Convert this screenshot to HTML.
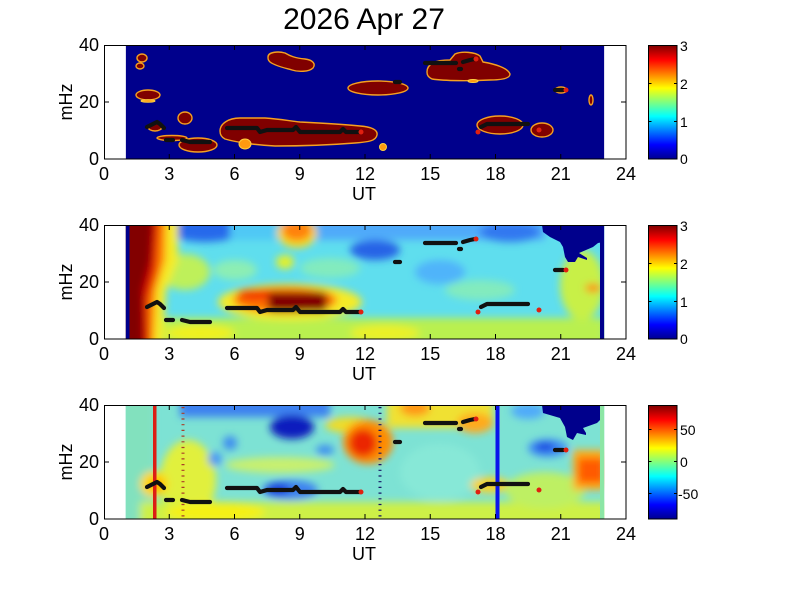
<!DOCTYPE html>
<html><head><meta charset="utf-8"><style>
html,body{margin:0;padding:0;background:#fff;}
svg{display:block;}
text{font-family:"Liberation Sans",Arial,sans-serif;fill:#000;}
</style></head><body>
<svg width="801" height="600" viewBox="0 0 801 600" xmlns="http://www.w3.org/2000/svg">
<defs>
<linearGradient id="jet" x1="0" y1="0" x2="0" y2="1">
<stop offset="0" stop-color="#800000"/><stop offset="0.125" stop-color="#ff0000"/>
<stop offset="0.375" stop-color="#ffff00"/><stop offset="0.625" stop-color="#00ffff"/>
<stop offset="0.875" stop-color="#0000ff"/><stop offset="1" stop-color="#00008f"/>
</linearGradient>
<filter id="b" x="-20%" y="-20%" width="140%" height="140%"><feGaussianBlur stdDeviation="4"/></filter>
<clipPath id="c1"><rect x="125.75" y="45" width="478.5" height="114"/></clipPath>
<clipPath id="c2"><rect x="125.75" y="225" width="478.5" height="114"/></clipPath>
<clipPath id="c3"><rect x="125.75" y="405" width="478.5" height="114"/></clipPath>
<g id="tracks">
<g fill="none" stroke="#111" stroke-width="4.2" stroke-linejoin="round" stroke-linecap="round">
<polyline points="147,307 153,304 157,302 160,304 164,308"/>
<polyline points="166,320 173,320"/>
<polyline points="182,320 190,322 210,322"/>
<polyline points="227,308 257,308 260,312 267,310 293,310 296,307 300,312 340,312 343,309 346,312 360,312"/>
<polyline points="395,262 400,262"/>
<polyline points="425,243 456,243"/>
<polyline points="459,249 461,249"/>
<polyline points="463,242 470,240 475,239"/>
<polyline points="481,307 487,304 528,304"/>
<polyline points="555,270 563,270"/>
</g>
<g fill="#e02010">
<circle cx="361" cy="312" r="2.5"/><circle cx="476" cy="239" r="2.5"/><circle cx="478" cy="312" r="2.5"/>
<circle cx="539" cy="310" r="2.5"/><circle cx="566" cy="270" r="2.5"/>
</g>
</g>
</defs>

<text x="364" y="29" font-size="30" text-anchor="middle">2026 Apr 27</text>

<!-- PANEL 1 -->
<g clip-path="url(#c1)">
<rect x="125.75" y="45" width="478.5" height="114" fill="#00008c"/>
<g fill="#800000" stroke="#f5a020" stroke-width="1.4">
<ellipse cx="142" cy="58" rx="5" ry="4"/>
<ellipse cx="140" cy="66" rx="4" ry="3"/>
<ellipse cx="148" cy="95" rx="12" ry="5"/>
<ellipse cx="185" cy="118" rx="7" ry="6"/>
<ellipse cx="155" cy="127" rx="7" ry="4"/>
<ellipse cx="172" cy="138" rx="15" ry="2.5"/>
<ellipse cx="198" cy="145" rx="19" ry="7"/>
<path d="M220,131 C220,124 228,118 240,118 L265,118 C280,119 290,121 300,122 C320,123 340,124 360,126 C372,127 378,130 377,135 C376,141 368,142 355,143 C330,145 300,146 275,146 C255,145 235,142 225,139 C221,137 220,134 220,131 Z"/>
<path d="M268,57 C268,52 278,51 285,53 C290,56 295,58 305,59 C313,60 316,64 313,68 C309,72 298,72 292,70 C285,68 275,66 270,62 C268,60 268,59 268,57 Z"/>
<ellipse cx="378" cy="88" rx="30" ry="7"/>
<path d="M427,72 C427,64 435,60 450,60 L455,54 C462,51 475,52 480,56 L483,62 C495,64 508,68 510,74 C510,79 500,80 490,80 C470,81 445,81 432,79 C428,77 427,75 427,72 Z"/>
<ellipse cx="500" cy="125" rx="23" ry="9"/>
<ellipse cx="542" cy="130" rx="11" ry="7"/>
<ellipse cx="561" cy="90" rx="6" ry="3"/>
<ellipse cx="591" cy="100" rx="2" ry="5"/>
</g>
<g fill="#ff9a10" stroke="#ffd040" stroke-width="1">
<ellipse cx="245" cy="144" rx="6" ry="5"/>
<circle cx="383" cy="147" r="3.5"/>
<ellipse cx="473" cy="81" rx="5" ry="1.5"/>
<ellipse cx="148" cy="101" rx="7" ry="1.2"/>
</g>
<use href="#tracks" transform="translate(0,-180)"/>
</g>
<rect x="104.5" y="45.5" width="521.5" height="113.5" fill="none" stroke="#000" stroke-width="1"/>

<!-- PANEL 2 -->
<g clip-path="url(#c2)">
<rect x="125" y="225" width="480" height="114" fill="rgb(95,222,238)"/>
<g filter="url(#b)">
<rect x="140" y="318" width="465" height="30" fill="rgb(185,240,80)"/>
<ellipse cx="200" cy="333" rx="35" ry="8" fill="rgb(240,240,30)"/>
<ellipse cx="385" cy="333" rx="35" ry="8" fill="rgb(235,240,40)"/>
<ellipse cx="185" cy="272" rx="25" ry="18" fill="rgb(190,240,90)"/>
<ellipse cx="235" cy="270" rx="22" ry="10" fill="rgb(140,238,180)"/>
<ellipse cx="330" cy="268" rx="30" ry="10" fill="rgb(130,235,190)"/>
<ellipse cx="480" cy="290" rx="35" ry="10" fill="rgb(130,235,190)"/>
<rect x="175" y="215" width="120" height="25" fill="rgb(60,140,245)"/>
<ellipse cx="205" cy="230" rx="35" ry="12" fill="rgb(40,105,235)"/>
<rect x="230" y="215" width="50" height="25" fill="rgb(80,200,245)"/>
<rect x="315" y="215" width="230" height="25" fill="rgb(80,170,250)"/>
<ellipse cx="375" cy="250" rx="25" ry="10" fill="rgb(40,100,230)"/>
<ellipse cx="510" cy="232" rx="30" ry="10" fill="rgb(50,120,240)"/>
<ellipse cx="440" cy="272" rx="25" ry="12" fill="rgb(80,180,250)"/>
<ellipse cx="297" cy="233" rx="20" ry="15" fill="rgb(245,220,40)"/>
<ellipse cx="297" cy="230" rx="15" ry="11" fill="rgb(255,130,10)"/>
<ellipse cx="285" cy="262" rx="9" ry="7" fill="rgb(230,240,40)"/>
<ellipse cx="290" cy="302" rx="72" ry="18" fill="rgb(245,235,40)"/>
<ellipse cx="285" cy="300" rx="52" ry="13" fill="rgb(255,110,0)"/>
<ellipse cx="255" cy="294" rx="18" ry="5" fill="rgb(240,40,0)"/>
<rect x="268" y="292" width="59" height="20" rx="5" fill="rgb(130,0,0)"/>
<ellipse cx="582" cy="285" rx="22" ry="35" fill="rgb(200,240,70)"/>
<ellipse cx="593" cy="288" rx="8" ry="4" fill="rgb(255,130,0)"/>
<polygon points="115,215 178,215 178,260 166,290 162,350 115,350" fill="rgb(245,235,40)"/>
<polygon points="115,215 166,215 165,260 156,290 153,350 115,350" fill="rgb(255,120,0)"/>
<polygon points="115,215 159,215 156,270 148,300 149,350 115,350" fill="rgb(220,10,0)"/>
<polygon points="115,215 154,215 151,260 143,290 144,350 115,350" fill="rgb(130,0,0)"/>
</g>
<rect x="125.75" y="225" width="3.75" height="114" fill="#00008c"/>
<rect x="600" y="225" width="4.25" height="114" fill="#00008c"/>
<polygon points="542,225 543,232 550,237 560,242 563,247 565,257 568,262 575,262 578,257 587,260 587,258 579,253 593,247 598,243 604,242 604,225" fill="#00008c"/>
<use href="#tracks"/>
</g>
<rect x="104.5" y="225.5" width="521.5" height="113.5" fill="none" stroke="#000" stroke-width="1"/>

<!-- PANEL 3 -->
<g clip-path="url(#c3)">
<rect x="125" y="405" width="480" height="114" fill="rgb(125,226,212)"/>
<g filter="url(#b)">
<rect x="115" y="395" width="38" height="135" fill="rgb(130,225,190)"/>
<ellipse cx="188" cy="480" rx="28" ry="40" fill="rgb(225,240,60)"/>
<rect x="140" y="502" width="470" height="30" fill="rgb(205,240,70)"/>
<ellipse cx="215" cy="512" rx="50" ry="10" fill="rgb(245,240,20)"/>
<ellipse cx="154" cy="484" rx="14" ry="13" fill="rgb(255,215,0)"/>
<ellipse cx="157" cy="485" rx="6" ry="5" fill="rgb(255,160,0)"/>
<rect x="180" y="395" width="150" height="22" fill="rgb(60,130,240)"/>
<ellipse cx="292" cy="427" rx="22" ry="12" fill="rgb(10,30,190)"/>
<ellipse cx="280" cy="465" rx="55" ry="8" fill="rgb(200,240,110)"/>
<circle cx="230" cy="443" r="7" fill="rgb(60,140,240)"/>
<circle cx="215" cy="459" r="7" fill="rgb(70,150,245)"/>
<ellipse cx="325" cy="450" rx="9" ry="5" fill="rgb(60,140,240)"/>
<ellipse cx="290" cy="490" rx="28" ry="10" fill="rgb(60,130,240)"/>
<ellipse cx="278" cy="489" rx="12" ry="6" fill="rgb(20,60,220)"/>
<ellipse cx="350" cy="425" rx="25" ry="8" fill="rgb(240,220,40)"/>
<rect x="387" y="398" width="106" height="30" fill="rgb(240,225,50)"/>
<ellipse cx="415" cy="408" rx="15" ry="8" fill="rgb(255,150,20)"/>
<ellipse cx="475" cy="423" rx="18" ry="10" fill="rgb(255,170,30)"/>
<ellipse cx="368" cy="442" rx="25" ry="22" fill="rgb(255,140,0)"/>
<ellipse cx="363" cy="443" rx="14" ry="14" fill="rgb(235,40,0)"/>
<ellipse cx="440" cy="472" rx="40" ry="28" fill="rgb(135,232,215)"/>
<ellipse cx="490" cy="485" rx="20" ry="8" fill="rgb(250,210,40)"/>
<ellipse cx="545" cy="490" rx="40" ry="18" fill="rgb(190,240,100)"/>
<ellipse cx="528" cy="411" rx="17" ry="8" fill="rgb(80,170,250)"/>
<ellipse cx="548" cy="448" rx="20" ry="9" fill="rgb(60,140,245)"/>
<ellipse cx="545" cy="447" rx="10" ry="4" fill="rgb(20,60,220)"/>
<rect x="573" y="450" width="32" height="40" fill="rgb(255,170,20)"/>
<rect x="578" y="458" width="26" height="25" fill="rgb(255,90,0)"/>
</g>
<rect x="600" y="405" width="4.25" height="114" fill="rgb(140,230,165)"/>
<polygon points="542,405 543,413 560,418 565,427 567,437 573,440 577,433 586,435 586,433 583,428 597,423 600,420 600,405" fill="#00008c"/>
<rect x="153" y="405" width="3.5" height="114" fill="rgb(220,30,20)"/>
<rect x="495.5" y="405" width="4" height="114" fill="rgb(10,20,235)"/>
<line x1="183" y1="407" x2="183" y2="518" stroke="rgb(170,60,40)" stroke-width="3" stroke-dasharray="1.2 4.5"/>
<line x1="380" y1="407" x2="380" y2="518" stroke="rgb(20,20,100)" stroke-width="3" stroke-dasharray="1.2 4.5"/>
<use href="#tracks" transform="translate(0,180)"/>
</g>
<rect x="104.5" y="405.5" width="521.5" height="113.5" fill="none" stroke="#000" stroke-width="1"/>

<!-- axis ticks -->
<g stroke="#000" stroke-width="1">
<path d="M169.25,159 v-5 M234.5,159 v-5 M299.75,159 v-5 M365,159 v-5 M430.25,159 v-5 M495.5,159 v-5 M560.75,159 v-5
M169.25,45 v5 M234.5,45 v5 M299.75,45 v5 M365,45 v5 M430.25,45 v5 M495.5,45 v5 M560.75,45 v5
M104,102 h5 M626,102 h-5"/>
<path transform="translate(0,180)" d="M169.25,159 v-5 M234.5,159 v-5 M299.75,159 v-5 M365,159 v-5 M430.25,159 v-5 M495.5,159 v-5 M560.75,159 v-5
M169.25,45 v5 M234.5,45 v5 M299.75,45 v5 M365,45 v5 M430.25,45 v5 M495.5,45 v5 M560.75,45 v5
M104,102 h5 M626,102 h-5"/>
<path transform="translate(0,360)" d="M169.25,159 v-5 M234.5,159 v-5 M299.75,159 v-5 M365,159 v-5 M430.25,159 v-5 M495.5,159 v-5 M560.75,159 v-5
M169.25,45 v5 M234.5,45 v5 M299.75,45 v5 M365,45 v5 M430.25,45 v5 M495.5,45 v5 M560.75,45 v5
M104,102 h5 M626,102 h-5"/>
</g>

<!-- axis labels -->
<g font-size="18" text-anchor="middle">
<g id="xl">
<text x="104" y="180">0</text><text x="169.25" y="180">3</text><text x="234.5" y="180">6</text>
<text x="299.75" y="180">9</text><text x="365" y="180">12</text><text x="430.25" y="180">15</text>
<text x="495.5" y="180">18</text><text x="560.75" y="180">21</text><text x="626" y="180">24</text>
<text x="364" y="200">UT</text>
</g>
<use href="#xl" transform="translate(0,180)"/>
<use href="#xl" transform="translate(0,360)"/>
</g>
<g font-size="18" text-anchor="end">
<g id="yl"><text x="99" y="51">40</text><text x="99" y="108">20</text><text x="99" y="165">0</text></g>
<use href="#yl" transform="translate(0,180)"/>
<use href="#yl" transform="translate(0,360)"/>
</g>
<g font-size="18" text-anchor="middle">
<text transform="translate(72,102) rotate(-90)">mHz</text>
<text transform="translate(72,282) rotate(-90)">mHz</text>
<text transform="translate(72,462) rotate(-90)">mHz</text>
</g>

<!-- colorbars -->
<g>
<rect x="648.5" y="45.5" width="28.5" height="113.5" fill="url(#jet)" stroke="#000" stroke-width="1"/>
<rect x="648.5" y="225.5" width="28.5" height="113.5" fill="url(#jet)" stroke="#000" stroke-width="1"/>
<rect x="648.5" y="405.5" width="28.5" height="113.5" fill="url(#jet)" stroke="#000" stroke-width="1"/>
<g stroke="#000" stroke-width="1">
<path d="M648.5,83.5 h3 M677,83.5 h-3 M648.5,121.5 h3 M677,121.5 h-3"/>
<path d="M648.5,263.5 h3 M677,263.5 h-3 M648.5,301.5 h3 M677,301.5 h-3"/>
<path d="M648.5,429.5 h3 M677,429.5 h-3 M648.5,461.5 h3 M677,461.5 h-3 M648.5,493.5 h3 M677,493.5 h-3"/>
</g>
<g font-size="14">
<text x="680" y="51">3</text><text x="680" y="89">2</text><text x="680" y="127">1</text><text x="680" y="164">0</text>
<text x="680" y="231">3</text><text x="680" y="269">2</text><text x="680" y="307">1</text><text x="680" y="344">0</text>
<text x="680" y="435">50</text><text x="680" y="467">0</text><text x="678" y="499">-50</text>
</g>
</g>
</svg>
</body></html>
